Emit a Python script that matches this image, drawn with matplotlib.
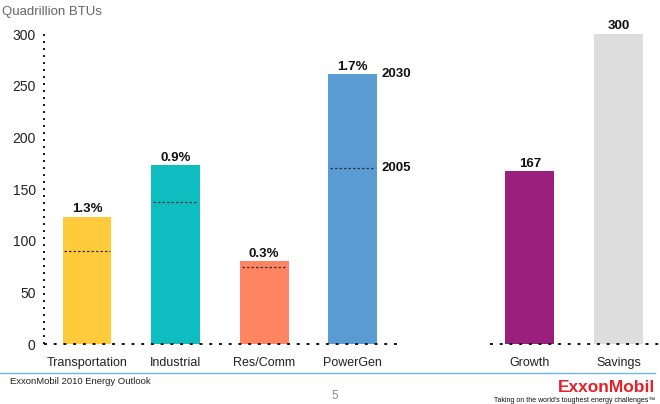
import matplotlib
matplotlib.use("Agg")
import matplotlib.pyplot as plt

categories = ["Transportation", "Industrial", "Res/Comm", "PowerGen", "Growth", "Savings"]
positions = [0, 1, 2, 3, 5, 6]
values_2030 = [123, 173, 80, 261, 167, 300]
values_2005 = [90, 137, 75, 170]
growth_rates = ["1.3%", "0.9%", "0.3%", "1.7%"]
top_labels = ["167", "300"]
colors = ["#FFCB3A", "#0DBDC0", "#FF8462", "#5A9BD3", "#9B1F7D", "#DDDDDD"]
yticks = [0, 50, 100, 150, 200, 250, 300]

plt.rcParams['font.family'] = ['Liberation Sans', 'DejaVu Sans']

fig = plt.figure(figsize=(6.6, 4.04), dpi=100)
ax = fig.add_axes([0.0667, 0.1485, 0.9333, 0.7928])
ax.set_xlim(-0.486, 6.47)
ax.set_ylim(0, 310)

w = 0.55
ax.bar(positions, values_2030, width=w, color=colors, zorder=2)

# 2005 dashed markers inside first four bars
for p, v in zip(positions[:4], values_2005):
    ax.plot([p - w / 2 + 0.02, p + w / 2 - 0.02], [v, v], color="#333333",
            lw=0.9, linestyle=(0, (2, 1.6)), zorder=3)

# growth rate labels
for p, v, t in zip(positions[:4], values_2030[:4], growth_rates):
    ax.text(p, v + 1.5, t, ha="center", va="bottom", fontsize=9.5, fontweight="bold", color="#111111")
for p, v, t in zip(positions[4:], values_2030[4:], top_labels):
    ax.text(p, v + 1.5, t, ha="center", va="bottom", fontsize=9.5, fontweight="bold", color="#111111")

# 2030 / 2005 annotation on PowerGen
ax.text(positions[3] + w / 2 + 0.05, values_2030[3], "2030", ha="left", va="center",
        fontsize=9.5, fontweight="bold", color="#111111")
ax.text(positions[3] + w / 2 + 0.05, values_2005[3], "2005", ha="left", va="center",
        fontsize=9.5, fontweight="bold", color="#111111")

# dotted axes
dot = (0, (1, 2.6))
ax.plot([-0.486, -0.486], [0, 300], color="#111111", lw=1.4, linestyle=dot, clip_on=False, zorder=4)
ax.plot([-0.486, 3.55], [0, 0], color="#111111", lw=1.4, linestyle=(0, (1.5, 3.5)), clip_on=False, zorder=4)
ax.plot([4.55, 6.47], [0, 0], color="#111111", lw=1.4, linestyle=(0, (1.5, 3.5)), clip_on=False, zorder=4)

for s in ax.spines.values():
    s.set_visible(False)
ax.set_yticks(yticks)
ax.set_yticklabels([str(t) for t in yticks], fontsize=10, color="#222222")
ax.tick_params(axis="y", length=0, pad=6)
ax.set_xticks(positions)
ax.set_xticklabels(categories, fontsize=9, color="#222222")
ax.tick_params(axis="x", length=0, pad=9)

fig.text(2 / 660, 1 - 12 / 404, "Quadrillion BTUs", fontsize=9.5, color="#666666", ha="left", va="center")

# footer
fig.add_artist(plt.Line2D([0, 655 / 660], [1 - 373 / 404] * 2, color="#6FB8DA", lw=1))
fig.text(10 / 660, 1 - 382 / 404, "ExxonMobil 2010 Energy Outlook", fontsize=6.8, color="#222222",
         ha="left", va="center")
fig.text(335 / 660, 1 - 396 / 404, "5", fontsize=8.5, color="#888888", ha="center", va="center")
fig.text(655 / 660, 1 - 388 / 404, "ExxonMobil", fontsize=12.5, color="#E8202A", fontweight="bold",
         ha="right", va="center")
fig.text(655 / 660, 1 - 401 / 404, "Taking on the world's toughest energy challenges\u2122", fontsize=5,
         color="#111111", ha="right", va="center")

fig.savefig("out.png", dpi=100)
